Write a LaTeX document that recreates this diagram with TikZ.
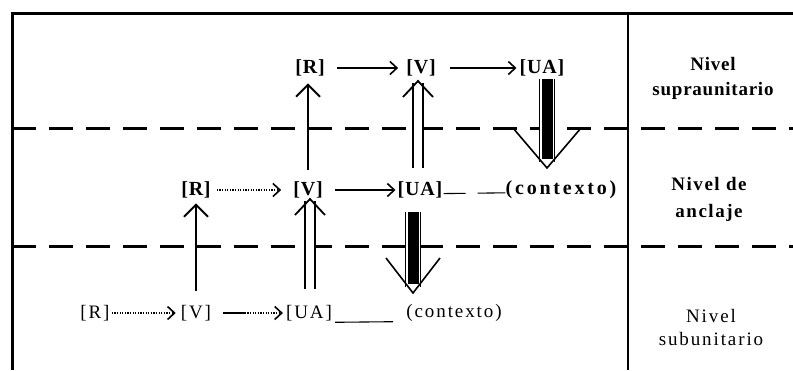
\documentclass[tikz,border=0pt]{standalone}
\usepackage{fontspec}
\setmainfont{Liberation Serif}[LetterSpace=4]
\usetikzlibrary{arrows.meta,calc}
\begin{document}
\begin{tikzpicture}[x=1pt,y=-1pt,
  lb/.style={inner sep=0pt, font=\fontsize{20}{22}\selectfont\bfseries},
  lbw/.style={inner sep=0pt, font=\fontsize{20}{22}\selectfont\bfseries\addfontfeature{LetterSpace=14}},
  lr/.style={inner sep=0pt, font=\fontsize{19}{22}\selectfont\addfontfeature{LetterSpace=10}},
  side/.style={inner sep=0pt, align=center},
  frame/.style={line width=3pt},
  divider/.style={line width=1.3pt},
  levelsep/.style={line width=3pt, dash pattern=on 24pt off 13pt},
  harr/.style={line width=1.1pt, -{Straight Barb[length=7pt,width=13pt,line width=1.6pt]}},
  hdot/.style={harr, dash pattern=on 1.2pt off 1.4pt},
  hplain/.style={line width=1.1pt},
  vsingle/.style={line width=1.1pt, -{Straight Barb[length=12pt,width=24pt,line width=1.8pt]}},
  dblshaft/.style={line width=1.4pt, double distance=8.5pt},
  chev/.style={line width=1.8pt, line join=miter},
  fatout/.style={line width=1pt, double distance=14pt},
  fatcore/.style={line width=11pt},
  fathead/.style={line width=1.6pt}
]
\useasboundingbox (0,0) rectangle (793,370);

% frame and level separators
\draw[frame] (12,370) -- (12,13) -- (793,13);
\draw[divider] (628,13) -- (628,370);
\draw[levelsep] (12,128) -- (793,128);
\draw[levelsep] (12,246) -- (793,246);

% top row
\node[lb] (R1) at (310,68) {[R]};
\node[lb] (V1) at (421,68) {[V]};
\node[lb] (UA1) at (542,68) {[UA]};
% middle row
\node[lb] (R2) at (196,190) {[R]};
\node[lb] (V2) at (308,190) {[V]};
\node[lb] (UA2) at (420,190) {[UA]};
\node[lbw] (C2) at (561,190) {(contexto)};
% bottom row
\node[lr] (R3) at (95,313) {[R]};
\node[lr] (V3) at (196,313) {[V]};
\node[lr] (UA3) at (309,313) {[UA]};
\node[lr] (C3) at (454,313) {(contexto)};

% side labels
\node[side, font=\fontsize{19}{25}\selectfont\bfseries] (L1) at (713,78) {Nivel\\supraunitario};
\node[side, font=\fontsize{19}{27}\selectfont\bfseries\addfontfeature{LetterSpace=8}] (L2) at (709,199) {Nivel de\\anclaje};
\node[side, font=\fontsize{19}{23}\selectfont\addfontfeature{LetterSpace=10}] (L3) at (711,327) {Nivel\\subunitario};

% horizontal arrows
\draw[harr, shorten <=12pt, shorten >=8pt] (R1) -- (V1);
\draw[harr, shorten <=14pt, shorten >=3pt] (V1) -- (UA1);
\draw[hdot, shorten <=6pt, shorten >=12pt] (R2) -- (V2);
\draw[harr, shorten <=12pt, shorten >=2pt] (V2) -- (UA2);
\draw[hplain, dash pattern=on 22pt off 12pt on 30pt, shorten <=1pt] ([yshift=2pt]UA2.base east) -- ([yshift=2pt]C2.base west);
\draw[hdot, shorten <=2pt, shorten >=5pt] (R3) -- (V3);
\coordinate (M3) at ($(V3.east)!0.45!(UA3.west)$);
\draw[hplain, shorten <=12pt] (V3) -- (M3);
\draw[harr, dash pattern=on 1.2pt off 1.4pt, shorten >=3pt] (M3) -- (UA3);
\draw[hplain, shorten <=3pt, shorten >=13pt] ([yshift=-4pt]UA3.base east) -- ([yshift=-4pt]C3.base west);

% single vertical arrows
\draw[vsingle, shorten <=12pt, shorten >=7pt] (V2.north) -- (V2.north |- R1.south);
\draw[vsingle, shorten <=14pt, shorten >=5pt] (V3.north -| R2.south) -- (R2.south);

% double vertical arrows
\coordinate (D1) at (418,81);
\draw[dblshaft] ([yshift=14pt]D1 |- UA2.north) -- ([yshift=-2pt]D1);
\draw[chev] ([shift={(-15,16)}]D1) -- (D1) -- ([shift={(15,16)}]D1);
\coordinate (D2) at (310,199);
\draw[dblshaft] ([yshift=16pt]D2 |- UA3.north) -- ([yshift=-2pt]D2);
\draw[chev] ([shift={(-15,16)}]D2) -- (D2) -- ([shift={(15,16)}]D2);

% thick downward arrows
\coordinate (T1) at (547,168);
\draw[fatout] ([yshift=-3pt]T1 |- UA1.south) -- ([shift={(0,-6)}]T1);
\draw[fatcore] ([yshift=-3pt]T1 |- UA1.south) -- ([shift={(0,-9)}]T1);
\draw[fathead] ([shift={(-34,-40)}]T1) -- (T1) -- ([shift={(34,-40)}]T1);
\coordinate (T2) at (413,293);
\draw[fatout] ([yshift=-14pt]T2 |- UA2.south) -- ([shift={(0,-6)}]T2);
\draw[fatcore] ([yshift=-14pt]T2 |- UA2.south) -- ([shift={(0,-9)}]T2);
\draw[fathead] ([shift={(-27,-35)}]T2) -- (T2) -- ([shift={(27,-35)}]T2);
\end{tikzpicture}
\end{document}
